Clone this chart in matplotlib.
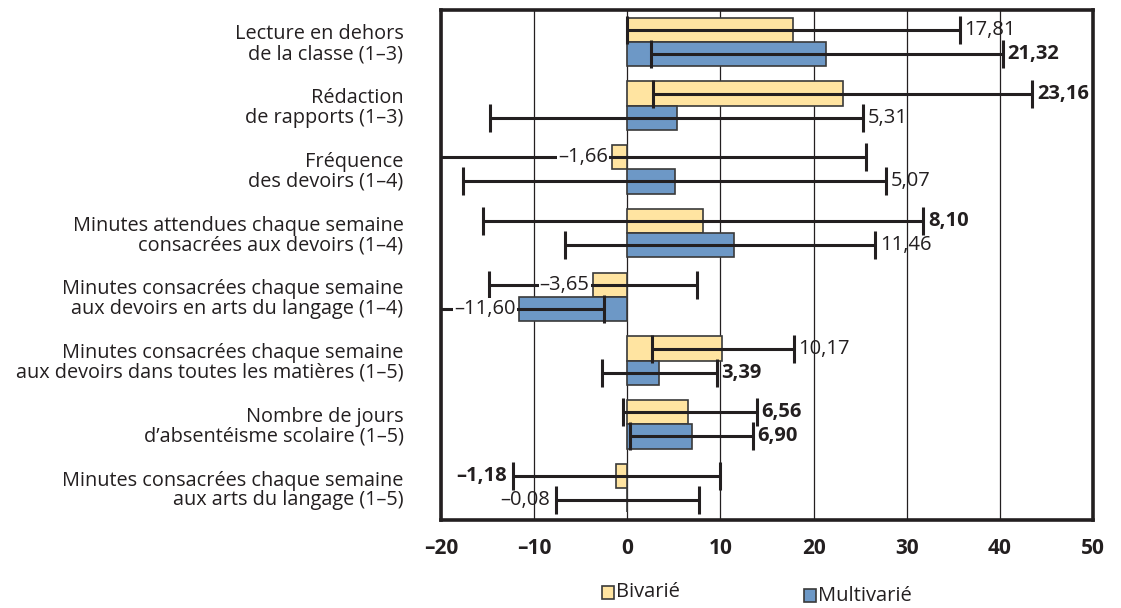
import matplotlib
matplotlib.use("Agg")
import matplotlib.pyplot as plt
from matplotlib.patches import Rectangle
import numpy as np

plt.rcParams['font.family'] = ['Open Sans', 'DejaVu Sans']

categories = [
    "Lecture en dehors\nde la classe (1–3)",
    "Rédaction\nde rapports (1–3)",
    "Fréquence\ndes devoirs (1–4)",
    "Minutes attendues chaque semaine\nconsacrées aux devoirs (1–4)",
    "Minutes consacrées chaque semaine\naux devoirs en arts du langage (1–4)",
    "Minutes consacrées chaque semaine\naux devoirs dans toutes les matières (1–5)",
    "Nombre de jours\nd’absentéisme scolaire (1–5)",
    "Minutes consacrées chaque semaine\naux arts du langage (1–5)",
]

bivarie = [17.81, 23.16, -1.66, 8.10, -3.65, 10.17, 6.56, -1.18]
bivarie_low = [0.0, 2.8, -22.0, -15.5, -14.8, 2.6, -0.5, -12.3]
bivarie_high = [35.7, 43.5, 25.6, 31.8, 7.5, 17.9, 13.9, 10.0]
bivarie_bold = [False, True, False, True, False, False, True, True]

multivarie = [21.32, 5.31, 5.07, 11.46, -11.60, 3.39, 6.90, -0.08]
multivarie_low = [2.5, -14.7, -17.6, -6.7, -21.0, -2.7, 0.3, -7.7]
multivarie_high = [40.3, 25.3, 27.8, 26.6, -2.5, 9.6, 13.5, 7.7]
multivarie_bold = [True, False, False, False, False, True, True, False]

x_ticks = [-20, -10, 0, 10, 20, 30, 40, 50]
legend_labels = ["Bivarié", "Multivarié"]

yellow = "#FFE4A1"
blue = "#6D98C6"
edge = "#3a3a3a"
ink = "#231f20"
val_size = 14.5


def fmt(v, decimals=2):
    s = f"{abs(v):.{decimals}f}".replace(".", ",")
    return ("–" + s) if v < 0 else s


fig = plt.figure(figsize=(11.21, 6.08), dpi=100)
ax = fig.add_axes([441 / 1121, 1 - 520 / 608, (1093 - 441) / 1121, 510 / 608])

n = len(categories)
ypos = np.arange(n)
h = 0.38
series = [
    (bivarie, bivarie_low, bivarie_high, bivarie_bold, yellow, -h / 2),
    (multivarie, multivarie_low, multivarie_high, multivarie_bold, blue, h / 2),
]

for vals, lows, highs, bolds, color, off in series:
    yy = ypos + off
    ax.barh(yy, vals, height=h, color=color, edgecolor=edge, linewidth=1.2, zorder=3)
    v = np.array(vals)
    err = np.vstack([v - np.array(lows), np.array(highs) - v])
    ax.errorbar(vals, yy, xerr=err, fmt="none", ecolor=ink, elinewidth=2.2,
                capsize=10, capthick=2.2, zorder=4)
    for val, lo, hi, b, y in zip(vals, lows, highs, bolds, yy):
        weight = "bold" if b else "normal"
        if val >= 0:
            ax.text(hi + 0.5, y, fmt(val), ha="left", va="center", fontsize=val_size,
                    fontweight=weight, color=ink, zorder=6)
        elif lo > -20 and abs(val) < 1.5:
            ax.text(lo - 0.6, y, fmt(val), ha="right", va="center", fontsize=val_size,
                    fontweight=weight, color=ink, zorder=6)
        else:
            ax.text(val - 0.4, y, fmt(val), ha="right", va="center", fontsize=val_size,
                    fontweight=weight, color=ink, zorder=6,
                    bbox=dict(boxstyle="square,pad=0.05", fc="white", ec="none"))

ax.set_xlim(-20, 50)
ax.set_ylim(n - 0.5, -0.5)
ax.set_xticks(x_ticks)
ax.set_xticklabels([fmt(t, 0) for t in x_ticks],
                   fontsize=15, fontweight="bold", color=ink)
ax.tick_params(axis="x", length=0, pad=13)
ax.set_yticks(ypos)
ax.set_yticklabels(categories, fontsize=14.3, color=ink, linespacing=0.98)
ax.tick_params(axis="y", length=0, pad=27)
for t in ax.get_yticklabels():
    t.set_horizontalalignment("right")
    t.set_multialignment("right")

ax.grid(axis="x", color=ink, linewidth=0.9, zorder=0)
ax.set_axisbelow(True)
for sp in ax.spines.values():
    sp.set_linewidth(2.6)
    sp.set_color(ink)


# legend swatches and labels placed in figure pixels
def fig_box(x0, y0, w, hgt, color):
    fig.patches.append(Rectangle((x0 / 1121, 1 - (y0 + hgt) / 608), w / 1121, hgt / 608,
                                 transform=fig.transFigure, facecolor=color,
                                 edgecolor=edge, linewidth=1.2))


fig_box(602, 586, 12, 13, yellow)
fig.text(616 / 1121, 1 - 592 / 608, legend_labels[0], ha="left", va="center",
         fontsize=14.5, color=ink)
fig_box(804, 589, 12, 13, blue)
fig.text(818 / 1121, 1 - 596 / 608, legend_labels[1], ha="left", va="center",
         fontsize=14.5, color=ink)

fig.savefig("out.png", dpi=100, facecolor="white")
